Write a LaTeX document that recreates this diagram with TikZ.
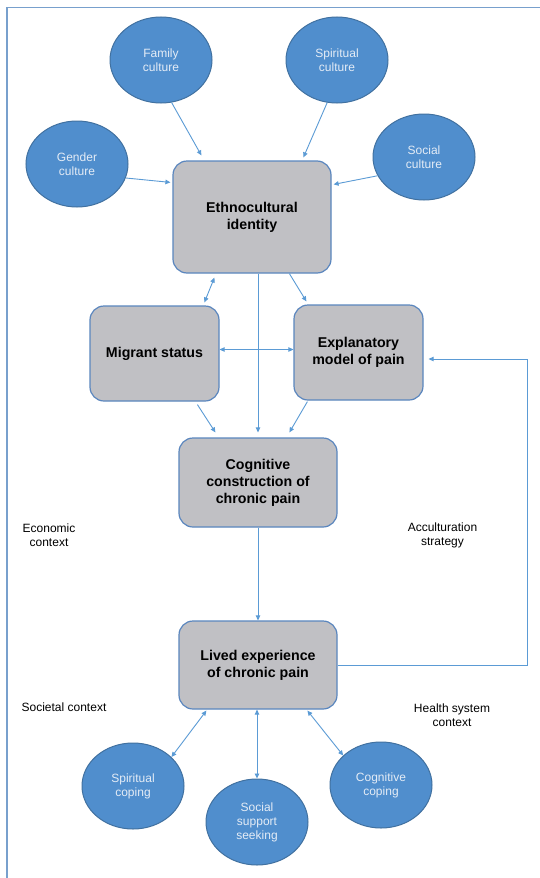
\documentclass[tikz,border=0pt]{standalone}
\usepackage{fontspec}
\setmainfont{Liberation Sans}
\usetikzlibrary{arrows.meta,calc,shapes.geometric}
\definecolor{ellfill}{RGB}{80,142,205}
\definecolor{elldraw}{RGB}{65,113,160}
\definecolor{boxfill}{RGB}{192,192,196}
\definecolor{boxdraw}{RGB}{90,134,190}
\definecolor{arr}{RGB}{91,155,213}
\definecolor{elltext}{RGB}{228,236,246}
\definecolor{framecol}{RGB}{120,160,205}
\begin{document}
\begin{tikzpicture}[x=1pt,y=-1pt,
 circ/.style={ellipse,draw=elldraw,fill=ellfill,line width=1pt,minimum width=102pt,minimum height=86pt,inner sep=0pt,text=elltext,font=\fontsize{12}{14}\selectfont,align=center},
 bx/.style={rectangle,rounded corners=14pt,draw=boxdraw,fill=boxfill,line width=1.2pt,inner sep=0pt,font=\fontsize{14.2}{17}\selectfont\bfseries,align=center},
 lbl/.style={font=\fontsize{12}{14}\selectfont,align=center,inner sep=0pt},
 con/.style={draw=arr,line width=0.9pt,-{Triangle[length=5pt,width=4.5pt]}},
 bi/.style={draw=arr,line width=0.9pt,{Triangle[length=5pt,width=4.5pt]}-{Triangle[length=5pt,width=4.5pt]}},
]
\useasboundingbox (0,0) rectangle (540,878);
\fill[white] (0,0) rectangle (540,878);
\draw[framecol,line width=1.5pt] (7,878) -- (7,7.5) -- (540,7.5);

% nodes
\node[circ] (fam) at (161,60) {Family\\culture};
\node[circ] (spi) at (337,60) {Spiritual\\culture};
\node[circ] (gen) at (77,164) {Gender\\culture};
\node[circ] (soc) at (424,157) {Social\\culture};

\node[bx,minimum width=158pt,minimum height=112pt] (eth) at (252,217) {Ethnocultural\\identity};
\node[bx,minimum width=129pt,minimum height=95pt] (mig) at (154.5,353.5) {Migrant status};
\node[bx,minimum width=129pt,minimum height=95pt] (exp) at (358.5,352.5) {Explanatory\\model of pain};
\node[bx,minimum width=158pt,minimum height=89pt] (cog) at (258,482.5) {Cognitive\\construction of\\chronic pain};
\node[bx,minimum width=158pt,minimum height=88pt] (liv) at (258,665) {Lived experience\\of chronic pain};

\node[circ] (spc) at (133,786) {Spiritual\\coping};
\node[circ] (ssk) at (257,822) {Social\\support\\seeking};
\node[circ] (cgc) at (381,785) {Cognitive\\coping};

\node[lbl] (eco) at (49,535) {Economic\\context};
\node[lbl] (acc) at (442.5,535) {Acculturation\\strategy};
\node[lbl] (sct) at (64,707) {Societal context};
\node[lbl] (hsc) at (452,715) {Health system\\context};

% connectors
\draw[con] (fam.-76) -- ([xshift=29pt,yshift=5pt]eth.north west);
\draw[con] (spi.-103) -- ([xshift=131pt,yshift=3pt]eth.north west);
\draw[con] (gen.-16) -- ([xshift=-2pt,yshift=-22pt]eth.north west);
\draw[con] (soc.-158) -- ([xshift=2pt,yshift=-24pt]eth.north east);

\draw[bi] ([xshift=42pt,yshift=-4pt]eth.south west) -- ([xshift=115pt,yshift=3pt]mig.north west);
\draw[con] ([xshift=117pt]eth.south west) -- ([xshift=13pt,yshift=3pt]exp.north west);
\draw[bi] ([yshift=4pt]mig.east) -- ([yshift=4pt]mig.east -| exp.west);
\draw[con] (eth.south -| cog.north) -- ([yshift=5pt]cog.north);
\draw[con] ([xshift=108pt,yshift=-3pt]mig.south west) -- ([xshift=37pt,yshift=5pt]cog.north west);
\draw[con] ([xshift=14pt,yshift=-1pt]exp.south west) -- ([xshift=111pt,yshift=5pt]cog.north west);

\draw[con] (cog.south) -- (liv.north);
\coordinate (fb) at (527,359);
\draw[con] (liv.east) -| (fb) -- ([xshift=5pt,yshift=-6.5pt]exp.east);

\draw[bi] ([xshift=28pt,yshift=-1pt]liv.south west) -- (spc.37);
\draw[bi] (liv.south -| ssk.north) -- (ssk.north);
\draw[bi] ([xshift=129pt,yshift=-1pt]liv.south west) -- (cgc.142);
\end{tikzpicture}
\end{document}
